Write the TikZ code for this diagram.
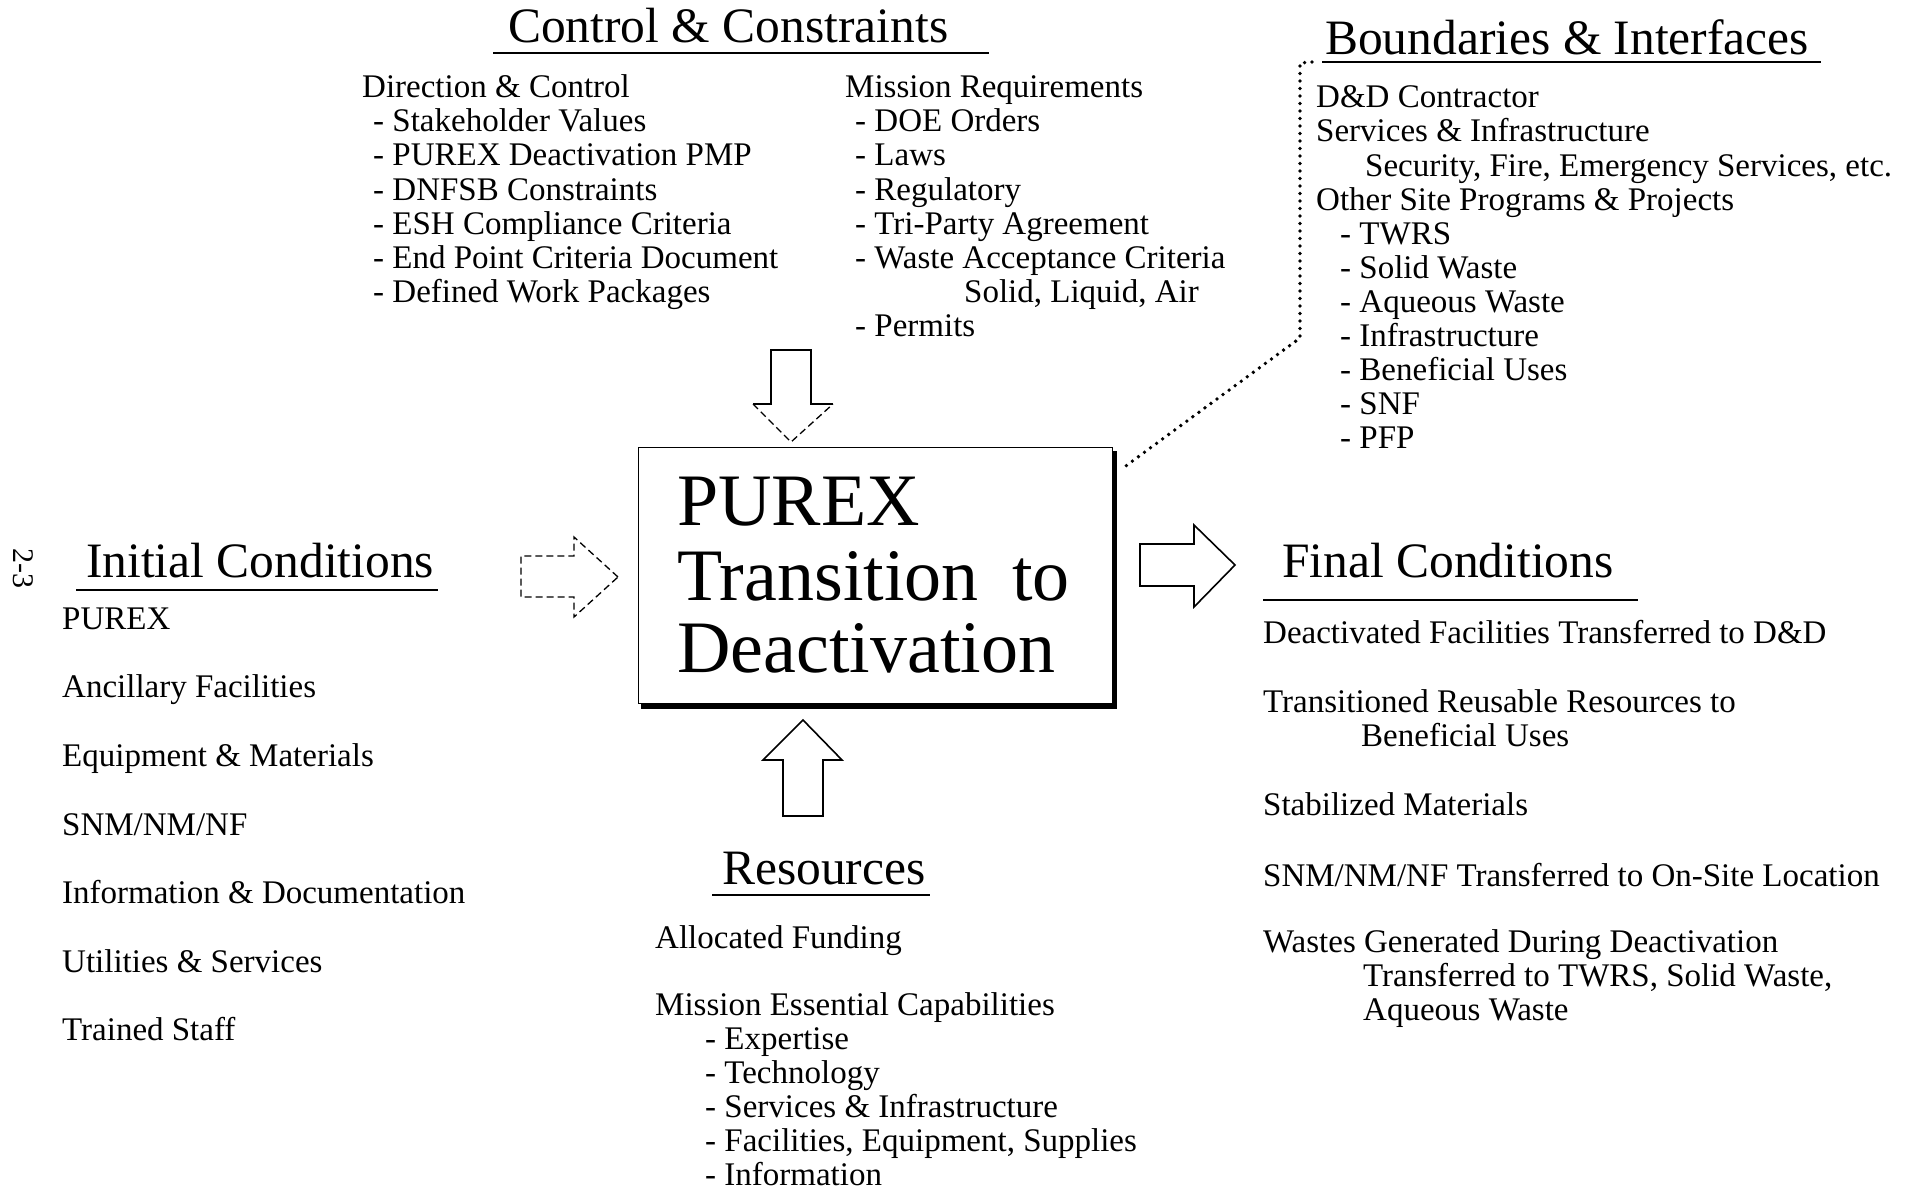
\documentclass[tikz,border=0pt]{standalone}
\usepackage{fontspec}
\setmainfont{Liberation Serif}
\newcommand\bodyf{\fontsize{33}{34}\selectfont}
\newcommand\titlef{\fontsize{49.5}{50}\selectfont}
\newcommand\bigf{\fontsize{74}{74}\selectfont}
\begin{document}
\begin{tikzpicture}[x=1pt,y=-1pt,
  body/.style={font=\bodyf,anchor=base west,inner sep=0pt},
  ttl/.style={font=\titlef,anchor=base west,inner sep=0pt},
  big/.style={font=\bigf,anchor=base west,inner sep=0pt},
  uline/.style={line width=2.6pt},
  blk/.style={line width=1.6pt,line join=miter},
  faint/.style={line width=1.3pt,dash pattern=on 7pt off 4pt},
  dots/.style={line width=3.8pt,line cap=round,dash pattern=on 0pt off 7.5pt}]
\useasboundingbox (0,0) rectangle (1919,1192);

% central box
\node[draw,line width=1.3pt,minimum width=474pt,minimum height=256pt,anchor=north west,inner sep=0pt] (box) at (638,447) {};
\draw[line width=5pt] (1114.5,451) -- (1114.5,706) -- (641,706);
\node[big] (t1) at (677,525) {PUREX};
\node[big] (t2) at (677,600) {Transition\hspace{15pt} to};
\node[big] (t3) at (677,672) {Deactivation};

% page number
\node[font=\fontsize{30}{30}\selectfont,rotate=-90,inner sep=0pt] (pg) at (23,568) {2-3};

% block arrows
\draw[blk] (753,404) -- (771,404) -- (771,350) -- (811,350) -- (811,404) -- (833,404);
\draw[faint] (753,404) -- (791,442) -- (833,404);
\draw[blk] (803,720) -- (763,760) -- (783,760) -- (783,816) -- (823,816) -- (823,760) -- (842,760) -- cycle;
\draw[blk] (1235,565) -- (1194,525) -- (1194,544) -- (1140,544) -- (1140,586) -- (1194,586) -- (1194,607) -- cycle;
\draw[faint] (618,577) -- (574,537) -- (574,556) -- (521,556) -- (521,597) -- (574,597) -- (574,617) -- cycle;

% dotted connector
\coordinate (bd) at (1312,62);
\coordinate (bx) at (1123,468);
\draw[dots] (bd) -- (1300,63) -- (1300,338) -- (bx);

% Control & Constraints
\node[ttl] (cct) at (508,42) {Control \& Constraints};
\draw[uline] (493,53) -- (989,53);
\node[body] (c0) at (362,97) {Direction \& Control};
\node[body] (c1) at (373,131) {- Stakeholder Values};
\node[body] (c2) at (373,165) {- PUREX Deactivation PMP};
\node[body] (c3) at (373,200) {- DNFSB Constraints};
\node[body] (c4) at (373,234) {- ESH Compliance Criteria};
\node[body] (c5) at (373,268) {- End Point Criteria Document};
\node[body] (c6) at (373,302) {- Defined Work Packages};
\node[body] (m0) at (845,97) {Mission Requirements};
\node[body] (m1) at (855,131) {- DOE Orders};
\node[body] (m2) at (855,165) {- Laws};
\node[body] (m3) at (855,200) {- Regulatory};
\node[body] (m4) at (855,234) {- Tri-Party Agreement};
\node[body] (m5) at (855,268) {- Waste Acceptance Criteria};
\node[body] (m6) at (964,302) {Solid, Liquid, Air};
\node[body] (m7) at (855,336) {- Permits};

% Boundaries & Interfaces
\node[ttl] (bit) at (1325,54) {Boundaries \& Interfaces};
\draw[uline] (1322,62) -- (1821,62);
\node[body] (b0) at (1316,107) {D\&D Contractor};
\node[body] (b1) at (1316,141) {Services \& Infrastructure};
\node[body] (b2) at (1365,176) {Security, Fire, Emergency Services, etc.};
\node[body] (b3) at (1316,210) {Other Site Programs \& Projects};
\node[body] (b4) at (1340,244) {- TWRS};
\node[body] (b5) at (1340,278) {- Solid Waste};
\node[body] (b6) at (1340,312) {- Aqueous Waste};
\node[body] (b7) at (1340,346) {- Infrastructure};
\node[body] (b8) at (1340,380) {- Beneficial Uses};
\node[body] (b9) at (1340,414) {- SNF};
\node[body] (b10) at (1340,448) {- PFP};

% Initial Conditions
\node[ttl] (ict) at (86,577) {Initial Conditions};
\draw[uline] (76,590) -- (438,590);
\node[body] (i0) at (62,629) {PUREX};
\node[body] (i1) at (62,697) {Ancillary Facilities};
\node[body] (i2) at (62,766) {Equipment \& Materials};
\node[body] (i3) at (62,835) {SNM/NM/NF};
\node[body] (i4) at (62,903) {Information \& Documentation};
\node[body] (i5) at (62,972) {Utilities \& Services};
\node[body] (i6) at (62,1040) {Trained Staff};

% Final Conditions
\node[ttl] (fct) at (1282,577) {Final Conditions};
\draw[uline] (1263,600) -- (1638,600);
\node[body] (f0) at (1263,643) {Deactivated Facilities Transferred to D\&D};
\node[body] (f1) at (1263,712) {Transitioned Reusable Resources to};
\node[body] (f2) at (1361,746) {Beneficial Uses};
\node[body] (f3) at (1263,815) {Stabilized Materials};
\node[body] (f4) at (1263,886) {SNM/NM/NF Transferred to On-Site Location};
\node[body] (f5) at (1263,952) {Wastes Generated During Deactivation};
\node[body] (f6) at (1363,986) {Transferred to TWRS, Solid Waste,};
\node[body] (f7) at (1363,1020) {Aqueous Waste};

% Resources
\node[ttl] (rt) at (722,884) {Resources};
\draw[uline] (712,895) -- (930,895);
\node[body] (r0) at (655,948) {Allocated Funding};
\node[body] (r1) at (655,1015) {Mission Essential Capabilities};
\node[body] (r2) at (705,1049) {- Expertise};
\node[body] (r3) at (705,1083) {- Technology};
\node[body] (r4) at (705,1117) {- Services \& Infrastructure};
\node[body] (r5) at (705,1151) {- Facilities, Equipment, Supplies};
\node[body] (r6) at (705,1185) {- Information};
\end{tikzpicture}
\end{document}
